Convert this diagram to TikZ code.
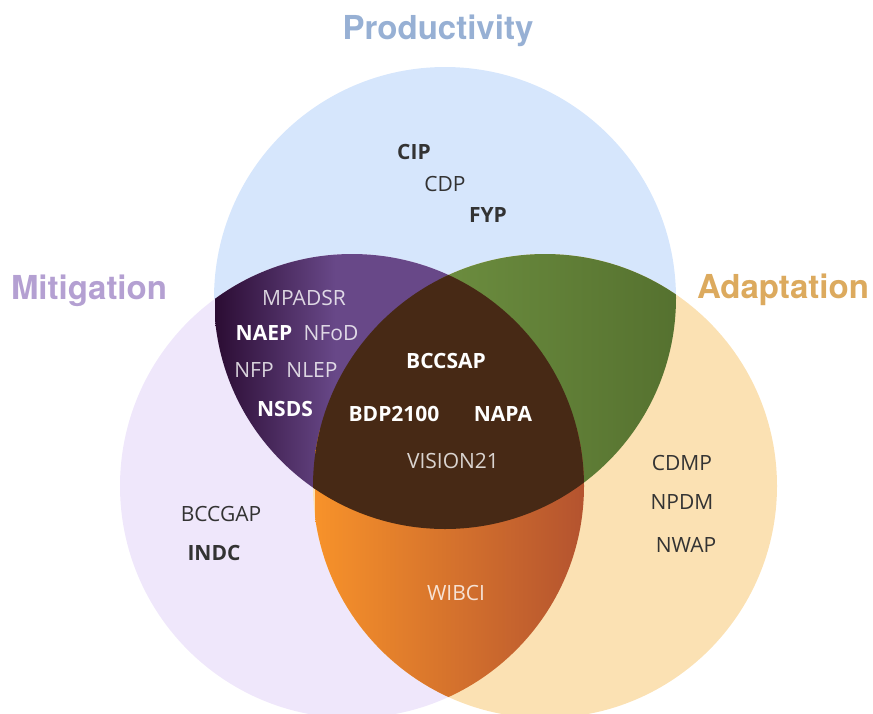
\documentclass[tikz,border=0pt]{standalone}
\usepackage{fontspec}
\setmainfont{Open Sans}
\newfontfamily\headfont{TeX Gyre Heros}
\definecolor{prodfill}{HTML}{D6E6FC}
\definecolor{mitfill}{HTML}{EFE7FB}
\definecolor{adaptfill}{HTML}{FBE1B3}
\definecolor{purpleL}{HTML}{2B0C33}
\definecolor{purpleR}{HTML}{684888}
\definecolor{greenL}{HTML}{6C8D3F}
\definecolor{greenR}{HTML}{55712F}
\definecolor{orangeL}{HTML}{F7922A}
\definecolor{orangeR}{HTML}{B4532F}
\definecolor{core}{HTML}{472915}
\definecolor{darktext}{HTML}{333333}
\definecolor{prodhead}{HTML}{97B0D4}
\definecolor{mithead}{HTML}{B4A0D2}
\definecolor{adapthead}{HTML}{DCAA5E}

\begin{document}
\begin{tikzpicture}[x=1pt, y=-1pt,
    every node/.style={inner sep=0pt, anchor=base},
    head/.style={font=\headfont\bfseries\fontsize{33}{36}\selectfont},
    plan/.style={text=darktext, font=\fontsize{21}{24}\selectfont},
    keyplan/.style={text=darktext, font=\bfseries\fontsize{21}{24}\selectfont},
    inplan/.style={text=white, text opacity=0.8, font=\fontsize{21}{24}\selectfont},
    inkey/.style={text=white, font=\bfseries\fontsize{21}{24}\selectfont}]
    \useasboundingbox (0,0) rectangle (873,713);
    % Define circle centres
    \coordinate (prod) at (445,298);
    \coordinate (mit) at (352,486);
    \coordinate (adapt) at (545,486);
    
    % Draw circles
    \fill[prodfill] (prod) circle[radius=231pt];
    \fill[mitfill] (mit) circle[radius=232pt];
    \fill[adaptfill] (adapt) circle[radius=232pt];
    
    % Overlaps
    \begin{scope}
        \clip (prod) circle[radius=231pt];
        \clip (mit) circle[radius=232pt];
        \shade[left color=purpleL, right color=purpleR] (215,240) rectangle (335,540);
        \fill[purpleR] (335,240) rectangle (470,540);
    \end{scope}
    \begin{scope}
        \clip (prod) circle[radius=231pt];
        \clip (adapt) circle[radius=232pt];
        \shade[left color=greenL, right color=greenR] (440,240) rectangle (680,540);
    \end{scope}
    \begin{scope}
        \clip (mit) circle[radius=232pt];
        \clip (adapt) circle[radius=232pt];
        \shade[left color=orangeL, right color=orangeR] (315,430) rectangle (585,713);
    \end{scope}
    \begin{scope}
        \clip (prod) circle[radius=231pt];
        \clip (mit) circle[radius=232pt];
        \fill[core] (adapt) circle[radius=232pt];
    \end{scope}
    
    % Headings
    \node[head, text=prodhead] (productivity) at (438,39) {Productivity};
    \node[head, text=mithead] (mitigation) at (89,299) {Mitigation};
    \node[head, text=adapthead] (adaptation) at (783,298) {Adaptation};
    
    % Productivity only
    \node[keyplan] (cip) at (414,159) {CIP};
    \node[plan] (cdp) at (445,191) {CDP};
    \node[keyplan] (fyp) at (488,222) {FYP};
    
    % Productivity and mitigation
    \node[inplan] (mpadsr) at (304,305) {MPADSR};
    \node[inkey] (naep) at (264,340) {NAEP};
    \node[inplan] (nfod) at (331,340) {NFoD};
    \node[inplan] (nfp) at (254,377) {NFP};
    \node[inplan] (nlep) at (312,377) {NLEP};
    \node[inkey] (nsds) at (285,416) {NSDS};
    
    % All three
    \node[inkey] (bccsap) at (446,368) {BCCSAP};
    \node[inkey] (bdp) at (394,421) {BDP2100};
    \node[inkey] (napa) at (503,421) {NAPA};
    \node[inplan] (vision) at (453,468) {VISION21};
    
    % Mitigation only
    \node[plan] (bccgap) at (221,521) {BCCGAP};
    \node[keyplan] (indc) at (214,560) {INDC};
    
    % Adaptation only
    \node[plan] (cdmp) at (682,470) {CDMP};
    \node[plan] (npdm) at (682,509) {NPDM};
    \node[plan] (nwap) at (686,552) {NWAP};
    
    % Mitigation and adaptation
    \node[inplan] (wibci) at (456,600) {WIBCI};
\end{tikzpicture}
\end{document}
